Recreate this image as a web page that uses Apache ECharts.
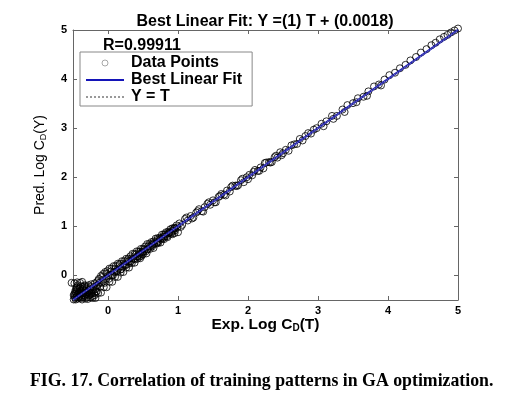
<!DOCTYPE html>
<html><head><meta charset="utf-8">
<script src="https://cdn.jsdelivr.net/npm/echarts@6/dist/echarts.min.js"></script>
<style>html,body{margin:0;padding:0;background:#fff}#c{width:522px;height:395px}</style>
</head><body><div id="c"></div>
<script>
// ---- data ----
const tickValues = [0, 1, 2, 3, 4, 5];
const blobT = [-0.49,-0.48,-0.47,-0.46,-0.45,-0.44,-0.44,-0.43,-0.42,-0.41,-0.40,-0.40,-0.39,-0.38,-0.37,-0.36,-0.36,-0.35,-0.34,-0.33,-0.32,-0.32,-0.31,-0.30,-0.29,-0.28,-0.28,-0.27,-0.26,-0.25,-0.24,-0.24,-0.23,-0.22,-0.21,-0.20,-0.19,-0.18,
  -0.47,-0.45,-0.43,-0.41,-0.39,-0.37,-0.35,-0.33,-0.31,-0.29,-0.27,-0.25,-0.23,-0.21,-0.19,-0.17,-0.16,-0.48,-0.46,-0.43,
  -0.49,-0.46,-0.42,-0.38,-0.34,-0.30,-0.26,-0.22,-0.44,-0.40,-0.36,-0.32];
const blobY = [-0.49,-0.42,-0.46,-0.36,-0.44,-0.40,-0.30,-0.47,-0.35,-0.43,-0.38,-0.26,-0.46,-0.32,-0.41,-0.28,-0.45,-0.36,-0.22,-0.42,-0.31,-0.47,-0.38,-0.24,-0.44,-0.33,-0.20,-0.40,-0.28,-0.45,-0.35,-0.18,-0.30,-0.42,-0.24,-0.36,-0.16,-0.28,
  -0.33,-0.25,-0.20,-0.28,-0.22,-0.49,-0.30,-0.20,-0.27,-0.48,-0.30,-0.23,-0.37,-0.30,-0.40,-0.22,-0.33,-0.38,-0.49,-0.38,
  -0.40,-0.29,-0.44,-0.37,-0.41,-0.34,-0.39,-0.46,-0.24,-0.32,-0.23,-0.38];
const outT = [-0.52,-0.48,-0.44,-0.40,-0.37,0.92,0.95,1.00,0.45,0.48];
const outY = [-0.15,-0.16,-0.14,-0.15,-0.13,0.84,0.86,0.88,0.38,0.40];
const bandAT = [-0.16,-0.13,-0.10,-0.07,-0.04,-0.01,0.02,0.05,0.08,0.11,0.14,0.17,0.20,0.23,0.26,0.29,0.32,0.35,0.38,0.41,0.44,0.47,0.50,0.53,0.56,0.59,0.62,0.65,0.68,0.71,0.74,0.77,0.80,0.83,0.86,0.89,0.92,0.95,0.98];
const bandAY = [-0.14,-0.07,-0.01,0.03,0.07,0.09,0.14,0.14,0.19,0.19,0.24,0.24,0.29,0.29,0.34,0.34,0.39,0.44,0.44,0.49,0.49,0.54,0.54,0.59,0.64,0.64,0.68,0.69,0.75,0.76,0.77,0.83,0.84,0.88,0.89,0.94,0.96,0.97,1.02];
const bandBT = [-0.15,-0.12,-0.09,-0.06,-0.03,0.00,0.03,0.06,0.09,0.12,0.15,0.18,0.21,0.24,0.27,0.30,0.33,0.36,0.39,0.42,0.45,0.48,0.51,0.54,0.57,0.60,0.63,0.66,0.69,0.72,0.75,0.78,0.81,0.84,0.87,0.90,0.93,0.96,0.99];
const bandBY = [-0.20,-0.15,-0.15,-0.08,-0.07,-0.01,0.00,0.01,0.07,0.08,0.14,0.12,0.18,0.22,0.22,0.29,0.29,0.34,0.33,0.39,0.44,0.44,0.49,0.49,0.54,0.59,0.59,0.64,0.66,0.67,0.74,0.75,0.79,0.80,0.86,0.87,0.91,0.92,0.98];
const bandCT = [-0.14,-0.08,-0.02,0.04,0.10,0.16,0.22,0.28,0.34,0.40,0.46,0.52,0.58,0.64,0.70,0.76,0.82,0.88,0.94];
const bandCY = [-0.10,-0.03,0.04,0.08,0.13,0.21,0.24,0.31,0.35,0.43,0.48,0.53,0.60,0.65,0.72,0.76,0.83,0.88,0.95];
const bandDT = [-0.18,-0.14,-0.10,-0.06,-0.02,0.02,0.06,0.10,0.14,0.18,0.22,0.26,0.30,0.34,0.38,0.42,0.46,0.50,0.55,0.60,0.65,0.70,0.75,0.80,0.85,0.90];
const bandDY = [-0.46,-0.36,-0.35,-0.24,-0.24,-0.13,-0.13,-0.03,-0.03,0.06,0.07,0.16,0.16,0.25,0.26,0.34,0.35,0.43,0.45,0.54,0.56,0.65,0.67,0.74,0.78,0.85];
const bandET = [-0.17,-0.11,-0.05,0.01,0.07,0.13,0.19,0.25,0.31,0.37,0.43,0.49,0.56,0.63,0.71,0.79,0.87,0.95];
const bandEY = [-0.32,-0.23,-0.15,-0.07,0.00,0.08,0.13,0.21,0.26,0.34,0.39,0.47,0.53,0.62,0.69,0.79,0.86,0.96];
const midAT = [1.02,1.06,1.10,1.14,1.18,1.22,1.26,1.30,1.34,1.38,1.42,1.46,1.50,1.54,1.58,1.62,1.66,1.70,1.74,1.78,1.82,1.86,1.90,1.94,1.98,2.02,2.06,2.10,2.14,2.18,2.22,2.26,2.30,2.34,2.38,2.42,2.46,2.50,2.54,2.58,2.62,2.66,2.70,2.74,2.78,2.82,2.86,2.90,2.94,2.98];
const midAY = [1.06,1.03,1.15,1.12,1.21,1.18,1.28,1.35,1.31,1.39,1.46,1.44,1.53,1.49,1.60,1.66,1.65,1.73,1.71,1.83,1.83,1.84,1.94,1.90,2.00,2.05,2.04,2.15,2.13,2.20,2.18,2.30,2.31,2.31,2.41,2.40,2.51,2.49,2.56,2.54,2.65,2.67,2.68,2.78,2.75,2.84,2.90,2.89,2.97,3.00];
const midBT = [1.04,1.12,1.20,1.28,1.36,1.44,1.52,1.60,1.68,1.76,1.84,1.92,2.00,2.08,2.16,2.24,2.32,2.40,2.48];
const midBY = [0.99,1.18,1.16,1.31,1.30,1.49,1.49,1.62,1.63,1.80,1.82,1.97,1.96,2.11,2.13,2.29,2.30,2.44,2.45];
const highT = [3.05,3.12,3.20,3.27,3.35,3.42,3.50,3.57,3.65,3.72,3.80,3.87,3.95,4.02,4.10,4.17,4.25,4.32,4.40,4.47,4.55,4.62,4.68,4.74,4.80,4.85,4.90,4.95,5.00,3.08,3.22,3.38,3.55,3.70,3.90];
const highY = [3.09,3.14,3.25,3.25,3.38,3.47,3.51,3.61,3.64,3.75,3.85,3.89,3.99,4.08,4.13,4.22,4.29,4.38,4.45,4.54,4.61,4.69,4.74,4.81,4.86,4.90,4.95,4.99,5.03,3.04,3.19,3.33,3.53,3.66,3.87];
const fitT = [-0.5, 5];
const fitY = [-0.498, 5.002];
const idT = [-0.5, 5];
const idY = [-0.5, 5];

// ---- build ----
const tAll = [].concat(blobT, outT, bandAT, bandBT, bandCT, bandDT, bandET, midAT, midBT, highT);
const yAll = [].concat(blobY, outY, bandAY, bandBY, bandCY, bandDY, bandEY, midAY, midBY, highY);
const pts = tAll.map((t, i) => [t, yAll[i]]);
const font = 'Liberation Sans, Arial, sans-serif';

const axisCommon = {
  type: 'value', min: -0.5, max: 5,
  axisLine: { show: true, onZero: false, lineStyle: { color: '#666', width: 1 } },
  axisTick: { show: true, inside: true, length: 4, customValues: tickValues, lineStyle: { color: '#666' } },
  splitLine: { show: false }
};
const chart = echarts.init(document.getElementById('c'));
chart.setOption({
  animation: false,
  backgroundColor: '#fff',
  grid: { left: 73, top: 30, right: 64, bottom: 95 },
  title: [
    { text: 'Best Linear Fit: Y =(1) T + (0.0018)', left: 265, top: 14, padding: 0, textAlign: 'center',
      textStyle: { fontFamily: font, fontWeight: 'bold', fontSize: 16, color: '#000' } },
    { text: 'R=0.99911', left: 103, top: 38, padding: 0,
      textStyle: { fontFamily: font, fontWeight: 'bold', fontSize: 16, color: '#000' } },
    { text: '{n|FIG. 17. }{b|Correlation of training patterns in GA optimization.}', left: 30, top: 372, padding: 0,
      textStyle: { rich: {
        n: { fontFamily: 'Liberation Serif, Times New Roman, serif', fontSize: 17.8, color: '#000' },
        b: { fontFamily: 'Liberation Serif, Times New Roman, serif', fontSize: 17.8, fontWeight: 'bold', color: '#000' } } } }
  ],
  legend: {
    orient: 'vertical', left: 80, top: 52, padding: [3, 10, 1, 5], itemGap: 1,
    itemWidth: 38, itemHeight: 6,
    borderColor: '#888', borderWidth: 1, backgroundColor: '#fff',
    textStyle: { fontFamily: font, fontWeight: 'bold', fontSize: 16, lineHeight: 15, color: '#000', padding: [0, 0, 0, 2] },
    data: [
      { name: 'Data Points', itemStyle: { color: 'rgba(255,255,255,0)', borderColor: '#777', borderWidth: 0.8 } },
      { name: 'Best Linear Fit', itemStyle: { opacity: 0 } },
      { name: 'Y = T', itemStyle: { opacity: 0 } }
    ]
  },
  xAxis: [
    Object.assign({}, axisCommon, { position: 'bottom',
      axisLabel: { customValues: tickValues, fontFamily: font, fontWeight: 'bold', fontSize: 11, color: '#000', margin: 5 },
      name: '{a|Exp. Log C}{s|D}{a|(T)}', nameLocation: 'middle', nameGap: 16, nameMoveOverlap: false,
      nameTextStyle: { rich: { a: { fontFamily: font, fontWeight: 'bold', fontSize: 15.5, color: '#000' },
                               s: { fontFamily: font, fontWeight: 'bold', fontSize: 10, color: '#000', verticalAlign: 'bottom', padding: [7, 0, 0, 0] } } } }),
    Object.assign({}, axisCommon, { position: 'top', axisLabel: { show: false } })
  ],
  yAxis: [
    Object.assign({}, axisCommon, { position: 'left',
      axisLabel: { customValues: tickValues, fontFamily: font, fontWeight: 'bold', fontSize: 11, color: '#000', margin: 6 },
      name: '{a|Pred. Log C}{s|D}{a|(Y)}', nameLocation: 'middle', nameGap: 25, nameMoveOverlap: false,
      nameTextStyle: { rich: { a: { fontFamily: font, fontSize: 14, color: '#000' },
                               s: { fontFamily: font, fontSize: 9, color: '#000', verticalAlign: 'bottom', padding: [7, 0, 0, 0] } } } }),
    Object.assign({}, axisCommon, { position: 'right', axisLabel: { show: false } })
  ],
  series: [
    { name: 'Data Points', type: 'scatter', data: pts, symbol: 'circle', symbolSize: 7, clip: false,
      itemStyle: { color: 'rgba(255,255,255,0)', borderColor: '#000', borderWidth: 1 }, z: 2 },
    { name: 'Best Linear Fit', type: 'line', data: fitT.map((t, i) => [t, fitY[i]]), symbol: 'none',
      lineStyle: { color: '#1414b8', width: 2 }, z: 4 },
    { name: 'Y = T', type: 'line', data: idT.map((t, i) => [t, idY[i]]), symbol: 'none',
      lineStyle: { color: '#999', width: 1, type: 'dotted' }, z: 5 }
  ]
});
</script></body></html>
